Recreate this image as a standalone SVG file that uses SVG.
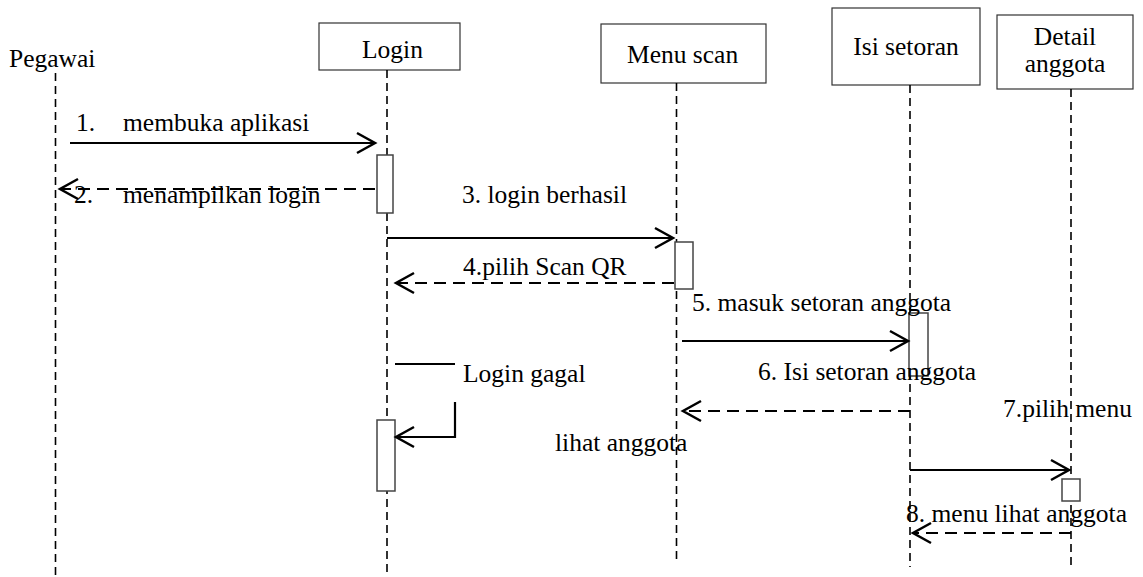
<svg xmlns="http://www.w3.org/2000/svg" width="1143" height="577" viewBox="0 0 1143 577" font-family="'Liberation Serif', 'Times New Roman', 'DejaVu Serif', serif">
<style>
text{font-family:'Liberation Serif','Times New Roman','DejaVu Serif',serif;font-size:25.5px;fill:#000}
.box{fill:#fff;stroke:#333;stroke-width:1.2}
.life{stroke:#000;stroke-width:1.6;stroke-dasharray:8 5;fill:none}
.act{fill:#fff;stroke:#444;stroke-width:1.5}
.msg{stroke:#000;stroke-width:2.2;fill:none}
.ret{stroke:#000;stroke-width:2.2;fill:none;stroke-dasharray:12 7}
</style>
<defs>
<marker id="open" viewBox="-22 -12 26 24" refX="0" refY="0" markerWidth="26" markerHeight="24" markerUnits="userSpaceOnUse" orient="auto">
<path d="M-18,-10 L0,0 L-18,10" fill="none" stroke="#000" stroke-width="2.5" stroke-dasharray="none"/>
</marker>
</defs>
<rect width="1143" height="577" fill="#fff"/>
<g id="pegawai">
<text x="9" y="67">Pegawai</text>
<line class="life" x1="55.5" y1="73" x2="55.5" y2="577"/>
</g>
<g id="login">
<rect class="box" x="319" y="23" width="141" height="47"/>
<text x="362" y="58">Login</text>
<line class="life" x1="387" y1="70" x2="387" y2="577"/>
<rect class="act" x="377" y="155" width="16" height="58"/>
<rect class="act" x="377" y="420" width="18" height="71"/>
</g>
<g id="menu-scan">
<rect class="box" x="601" y="24" width="165" height="59"/>
<text x="627" y="63">Menu scan</text>
<line class="life" x1="676.5" y1="83" x2="676.5" y2="563"/>
<rect class="act" x="675" y="242" width="18" height="47"/>
</g>
<g id="isi-setoran">
<rect class="box" x="832" y="8" width="148" height="77"/>
<text x="906" y="55" text-anchor="middle">Isi setoran</text>
<line class="life" x1="910" y1="85" x2="910" y2="567"/>
<rect class="act" x="909" y="313" width="19" height="63"/>
</g>
<g id="detail-anggota">
<rect class="box" x="997" y="15" width="136" height="74"/>
<text x="1065" y="45" text-anchor="middle">Detail</text>
<text x="1065" y="72" text-anchor="middle">anggota</text>
<line class="life" x1="1071" y1="89" x2="1071" y2="567"/>
<rect class="act" x="1062" y="479" width="18" height="22"/>
</g>
<g id="connectors">
<line class="msg" x1="70" y1="143" x2="375" y2="143" marker-end="url(#open)"/>
<line class="ret" x1="375" y1="189" x2="60" y2="189" marker-end="url(#open)"/>
<line class="msg" x1="387" y1="238" x2="673" y2="238" marker-end="url(#open)"/>
<line class="ret" x1="674" y1="283" x2="396" y2="283" marker-end="url(#open)"/>
<line class="msg" x1="682" y1="341" x2="908" y2="341" marker-end="url(#open)"/>
<line class="ret" x1="910" y1="411" x2="683" y2="411" marker-end="url(#open)"/>
<line class="msg" x1="395" y1="364" x2="455" y2="364" stroke-width="1.5"/>
<polyline class="msg" points="455,402 455,437 396,437" marker-end="url(#open)"/>
<line class="msg" x1="910" y1="470" x2="1069" y2="470" marker-end="url(#open)"/>
<line class="ret" x1="1071" y1="533" x2="913" y2="533" marker-end="url(#open)"/>
</g>
<g id="labels">
<text y="131"><tspan x="76">1.</tspan><tspan x="123">membuka aplikasi</tspan></text>
<text y="203"><tspan x="74">2.</tspan><tspan x="123">menampilkan login</tspan></text>
<text x="462" y="203">3. login berhasil</text>
<text x="463" y="275">4.pilih Scan QR</text>
<text x="692" y="311">5. masuk setoran anggota</text>
<text x="463" y="382">Login gagal</text>
<text x="758" y="380">6. Isi setoran anggota</text>
<text x="1003" y="417">7.pilih menu</text>
<text x="555" y="451">lihat anggota</text>
<text x="906" y="522">8. menu lihat anggota</text>
</g>
</svg>
